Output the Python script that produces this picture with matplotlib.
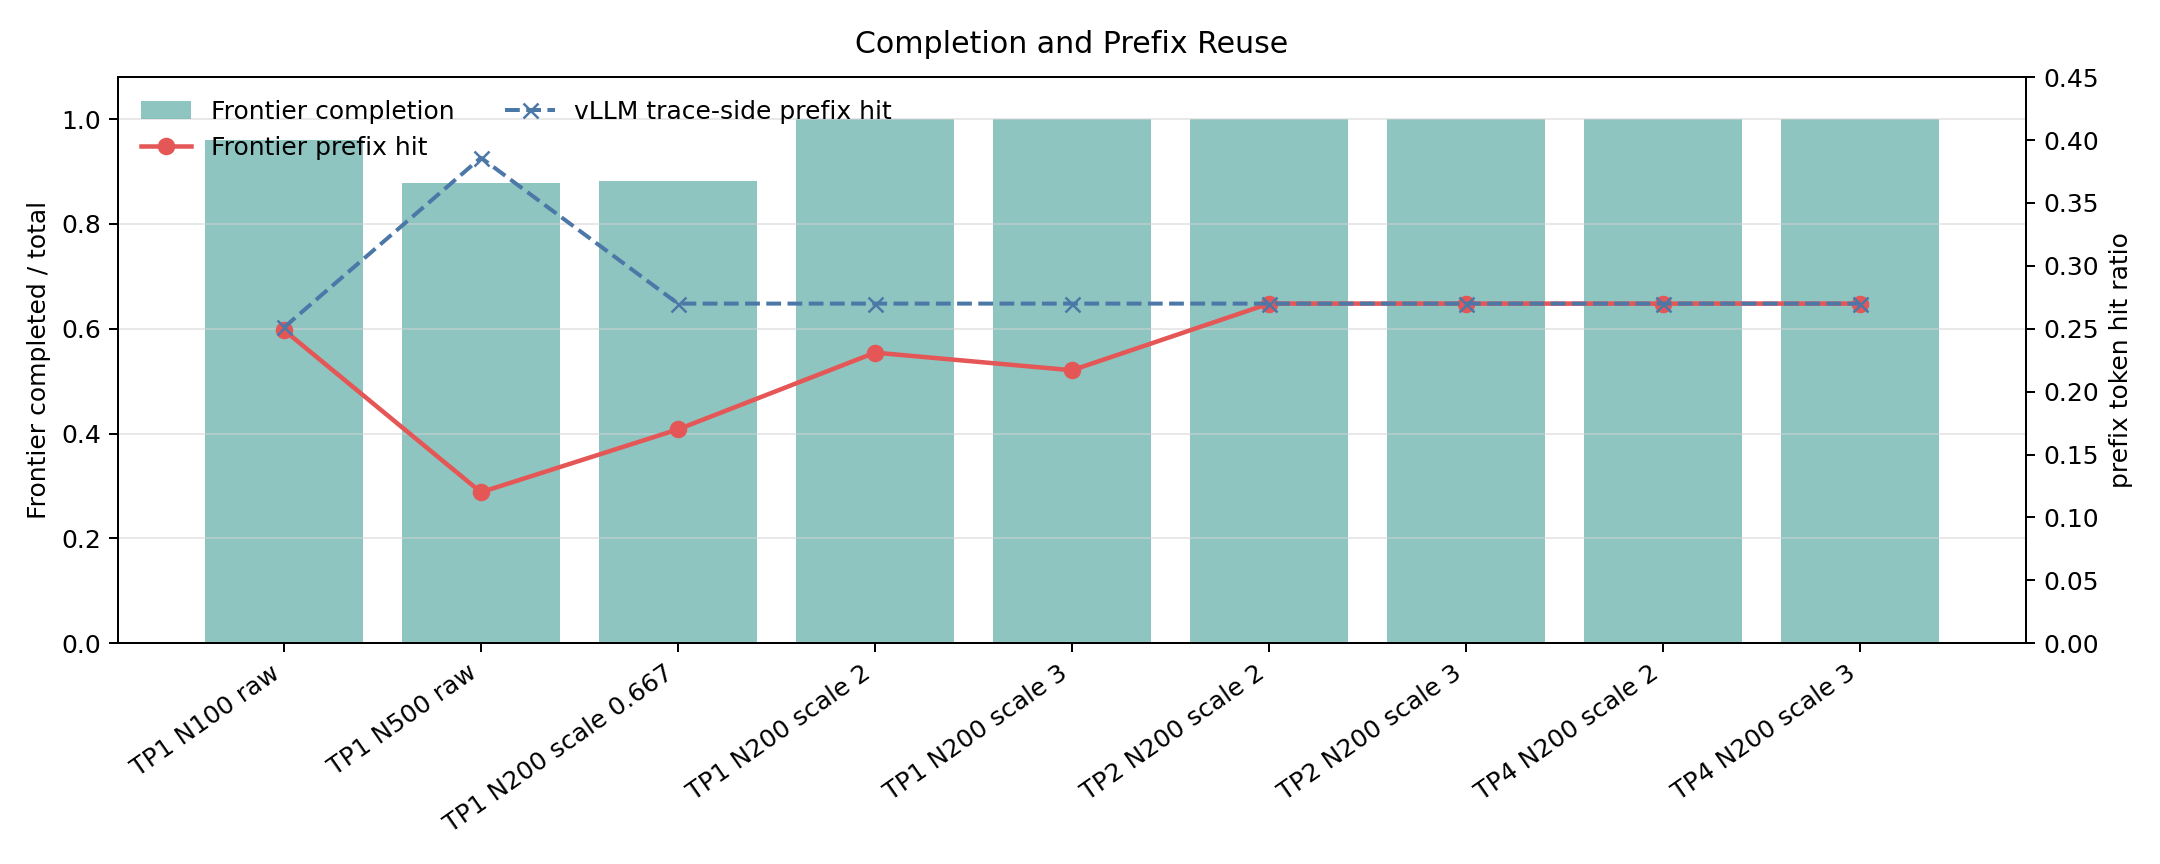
import numpy as np
import matplotlib.pyplot as plt

# configs on x axis
labels = ['TP1 N100 raw', 'TP1 N500 raw', 'TP1 N200 scale 0.667', 'TP1 N200 scale 2',
          'TP1 N200 scale 3', 'TP2 N200 scale 2', 'TP2 N200 scale 3',
          'TP4 N200 scale 2', 'TP4 N200 scale 3']

# completed / total
completion = [0.96, 0.879, 0.881, 1.0, 1.0, 1.0, 1.0, 1.0, 1.0]
# prefix token hit ratio
frontier_hit = [0.249, 0.120, 0.170, 0.231, 0.217, 0.270, 0.270, 0.270, 0.270]
vllm_hit = [0.251, 0.386, 0.270, 0.270, 0.270, 0.270, 0.270, 0.270, 0.270]

x = np.arange(len(labels))

fig, ax1 = plt.subplots(figsize=(12, 4.8), dpi=180)
ax1.bar(x, completion, width=0.8, color='#72b7b2', alpha=0.8, label='Frontier completion')
ax1.set_ylim(0, 1.08)
ax1.set_ylabel('Frontier completed / total')
ax1.grid(axis='y', color='lightgray', alpha=0.5)
ax1.set_xticks(x)
ax1.set_xticklabels(labels, rotation=35, ha='right')

ax2 = ax1.twinx()
ax2.plot(x, frontier_hit, color='#e45756', marker='o', lw=1.8, label='Frontier prefix hit')
ax2.plot(x, vllm_hit, color='#4c78a8', marker='x', ls='--', lw=1.6, label='vLLM trace-side prefix hit')
ax2.set_ylim(0, 0.45)
ax2.set_ylabel('prefix token hit ratio')

h1, l1 = ax1.get_legend_handles_labels()
h2, l2 = ax2.get_legend_handles_labels()
ax1.legend(h1 + h2, l1 + l2, loc='upper left', ncol=2, frameon=False)

ax1.set_title('Completion and Prefix Reuse', pad=9.5)
fig.tight_layout(rect=(0, 0, 1, 0.996))
fig.savefig('out.png')
